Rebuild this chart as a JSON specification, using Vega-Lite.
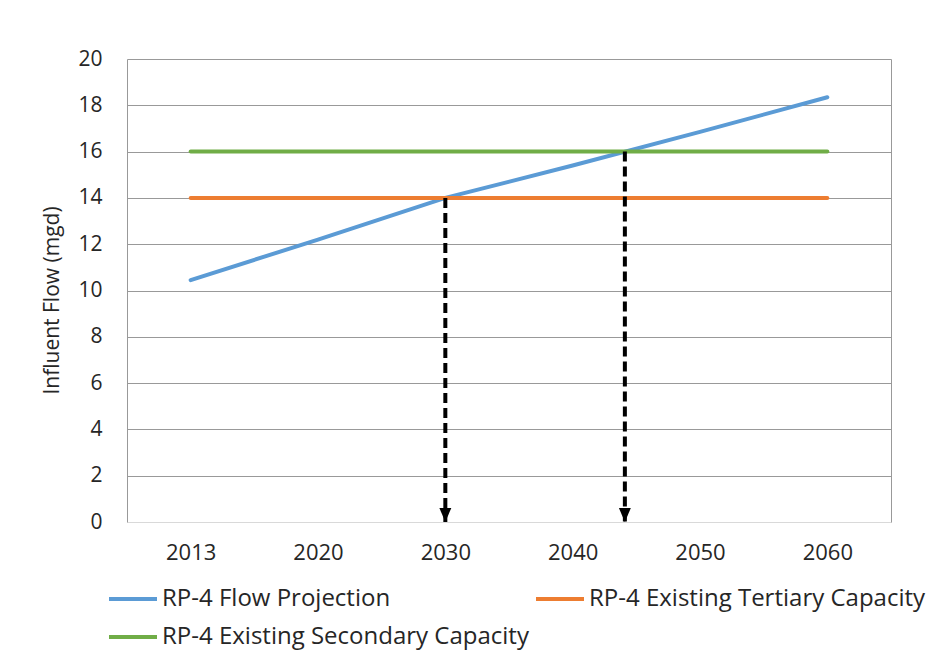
{
  "$schema": "https://vega.github.io/schema/vega-lite/v6.json",
  "width": 764,
  "height": 463,
  "autosize": {"type": "none"},
  "padding": {"left": 127, "top": 59, "right": 50, "bottom": 146},
  "background": "white",
  "config": {
    "view": {"stroke": null},
    "font": "Open Sans",
    "axis": {
      "labelFont": "Open Sans",
      "titleFont": "Open Sans",
      "labelColor": "#262626",
      "titleColor": "#262626",
      "labelFontSize": 21,
      "titleFontSize": 21,
      "titleFontWeight": "normal",
      "ticks": false,
      "tickSize": 0
    },
    "legend": {"labelFont": "Open Sans"}
  },
  "datasets": {
    "flows": [
      {"slot": 0, "year": "2013", "series": "RP-4 Flow Projection", "flow": 10.45},
      {"slot": 1, "year": "2020", "series": "RP-4 Flow Projection", "flow": 12.2},
      {"slot": 2, "year": "2030", "series": "RP-4 Flow Projection", "flow": 14.0},
      {"slot": 3, "year": "2040", "series": "RP-4 Flow Projection", "flow": 15.4},
      {"slot": 4, "year": "2050", "series": "RP-4 Flow Projection", "flow": 16.85},
      {"slot": 5, "year": "2060", "series": "RP-4 Flow Projection", "flow": 18.35},
      {"slot": 0, "year": "2013", "series": "RP-4 Existing Tertiary Capacity", "flow": 14},
      {"slot": 1, "year": "2020", "series": "RP-4 Existing Tertiary Capacity", "flow": 14},
      {"slot": 2, "year": "2030", "series": "RP-4 Existing Tertiary Capacity", "flow": 14},
      {"slot": 3, "year": "2040", "series": "RP-4 Existing Tertiary Capacity", "flow": 14},
      {"slot": 4, "year": "2050", "series": "RP-4 Existing Tertiary Capacity", "flow": 14},
      {"slot": 5, "year": "2060", "series": "RP-4 Existing Tertiary Capacity", "flow": 14},
      {"slot": 0, "year": "2013", "series": "RP-4 Existing Secondary Capacity", "flow": 16},
      {"slot": 1, "year": "2020", "series": "RP-4 Existing Secondary Capacity", "flow": 16},
      {"slot": 2, "year": "2030", "series": "RP-4 Existing Secondary Capacity", "flow": 16},
      {"slot": 3, "year": "2040", "series": "RP-4 Existing Secondary Capacity", "flow": 16},
      {"slot": 4, "year": "2050", "series": "RP-4 Existing Secondary Capacity", "flow": 16},
      {"slot": 5, "year": "2060", "series": "RP-4 Existing Secondary Capacity", "flow": 16}
    ],
    "crossings": [
      {"slot": 2, "flow": 14},
      {"slot": 3.41, "flow": 16}
    ]
  },
  "layer": [
    {
      "data": {"name": "flows"},
      "mark": {"type": "line", "strokeWidth": 4, "strokeCap": "round"},
      "encoding": {
        "x": {
          "field": "slot",
          "type": "quantitative",
          "scale": {"domain": [-0.5, 5.5], "nice": false, "zero": false},
          "axis": {
            "title": null,
            "values": [0, 1, 2, 3, 4, 5],
            "labelExpr": "['2013','2020','2030','2040','2050','2060'][datum.value]",
            "domain": false,
            "grid": false,
            "labelPadding": 20,
            "labelFontSize": 22,
            "labelFlush": false
          }
        },
        "y": {
          "field": "flow",
          "type": "quantitative",
          "scale": {"domain": [0, 20], "nice": false},
          "axis": {
            "title": "Influent Flow (mgd)",
            "values": [0, 2, 4, 6, 8, 10, 12, 14, 16, 18, 20],
            "labelPadding": 25,
            "labelFlush": false,
            "domain": true,
            "domainColor": "#999999",
            "domainWidth": 1,
            "grid": true,
            "gridColor": {"condition": {"test": "datum.value === 0", "value": "#d9d9d9"}, "value": "#999999"},
            "gridWidth": 1,
            "titleX": -75,
            "titleY": 241,
            "titleBaseline": "middle",
            "titleAlign": "center"
          }
        },
        "color": {
          "field": "series",
          "type": "nominal",
          "scale": {
            "domain": ["RP-4 Flow Projection", "RP-4 Existing Tertiary Capacity", "RP-4 Existing Secondary Capacity"],
            "range": ["#5B9BD5", "#ED7D31", "#70AD47"]
          },
          "legend": {
            "title": null,
            "orient": "none",
            "direction": "horizontal",
            "legendX": -20,
            "legendY": 514,
            "columns": 2,
            "columnPadding": -1,
            "rowPadding": -7,
            "padding": 0,
            "symbolType": "stroke",
            "symbolSize": 2304,
            "symbolStrokeWidth": 4,
            "labelFontSize": 24,
            "labelColor": "#262626",
            "labelOffset": 3,
            "labelLimit": 0
          }
        }
      }
    },
    {
      "data": {"name": "crossings"},
      "mark": {"type": "rule", "strokeWidth": 4, "strokeDash": [10, 5], "color": "black"},
      "encoding": {
        "x": {"field": "slot", "type": "quantitative"},
        "y": {
          "field": "flow",
          "type": "quantitative",
          "axis": {
            "orient": "right",
            "title": null,
            "labels": false,
            "grid": false,
            "domain": true,
            "domainColor": "#999999",
            "domainWidth": 1
          }
        },
        "y2": {"datum": 0}
      }
    },
    {
      "data": {"name": "crossings"},
      "mark": {
        "type": "point",
        "shape": "M-0.85,-1L0.85,-1L0,1Z",
        "filled": true,
        "color": "black",
        "opacity": 1,
        "size": 196,
        "yOffset": -7
      },
      "encoding": {
        "x": {"field": "slot", "type": "quantitative"},
        "y": {"datum": 0, "type": "quantitative", "axis": null}
      }
    }
  ],
  "resolve": {"axis": {"y": "independent"}}
}
